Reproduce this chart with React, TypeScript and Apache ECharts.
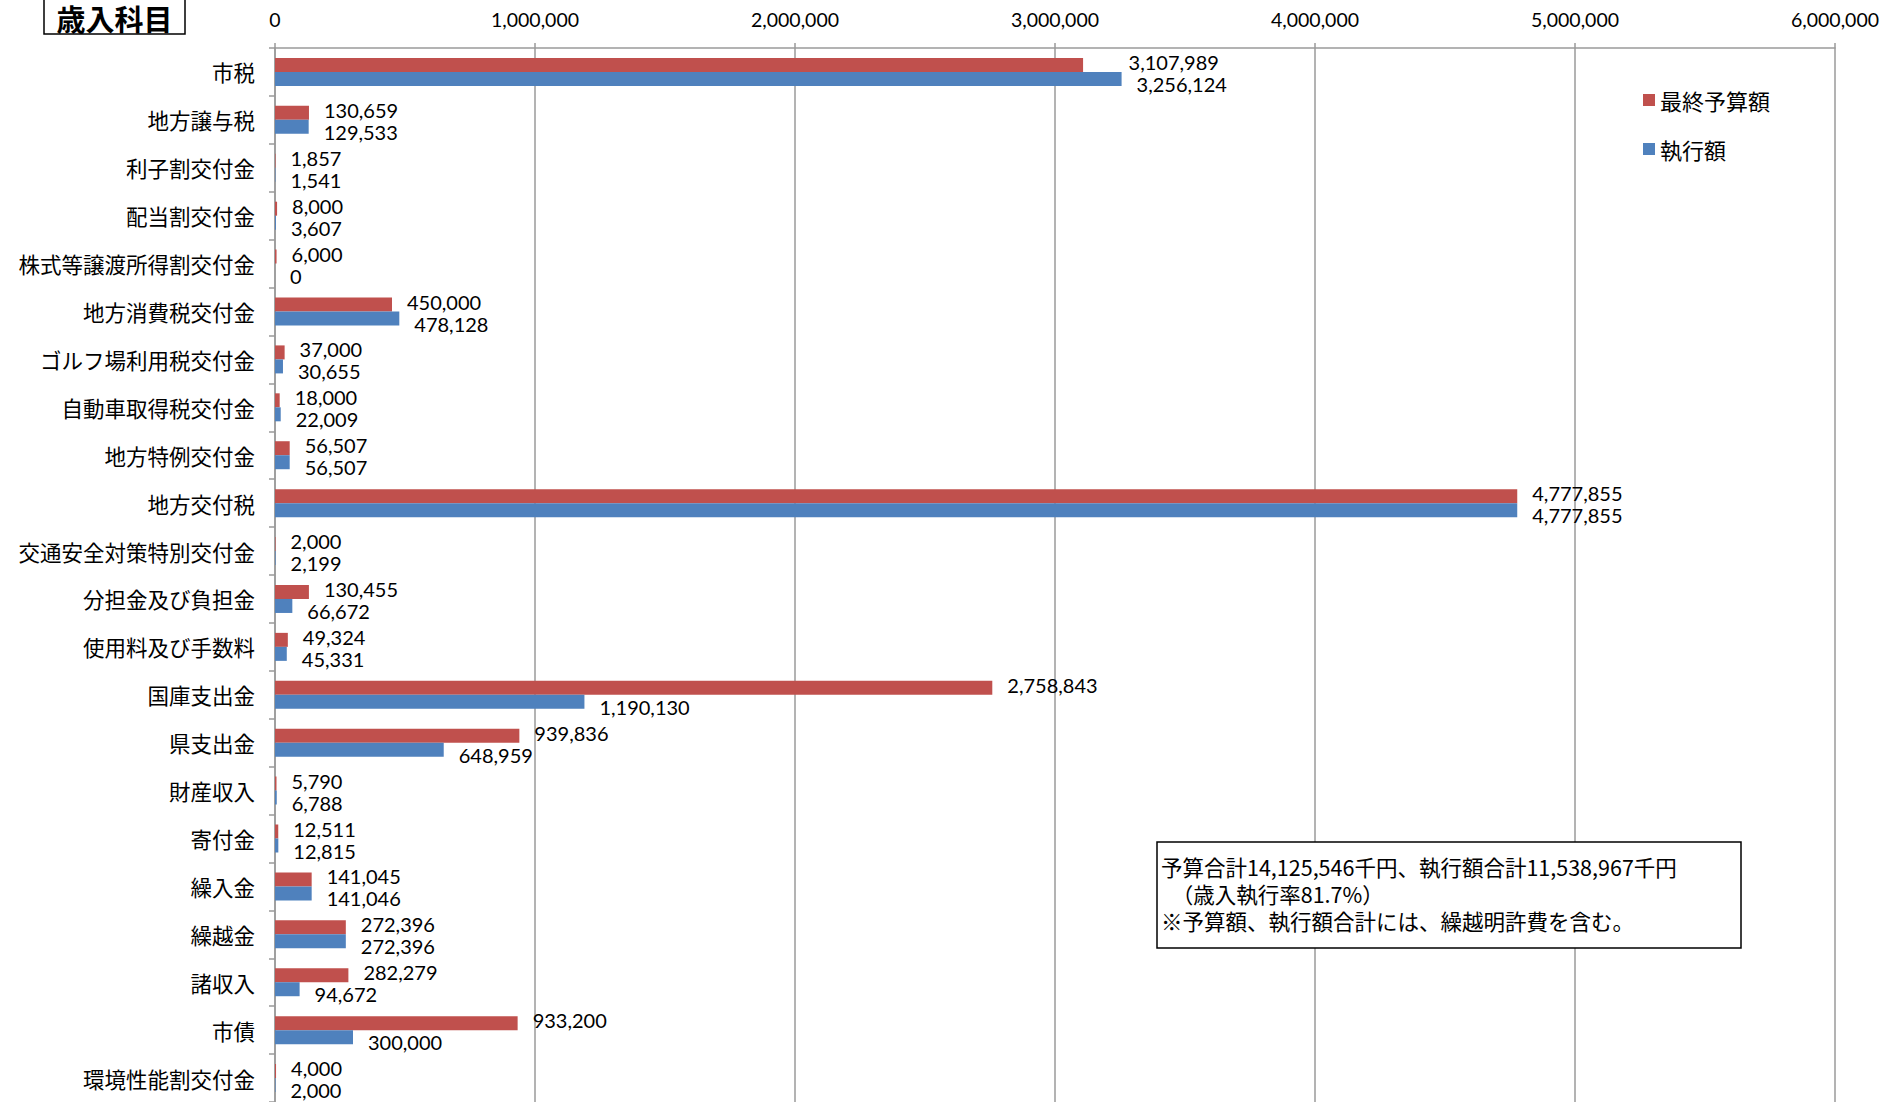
import React, { useEffect, useRef } from "react";
import * as echarts from "echarts";

const categories = [
  "市税",
  "地方譲与税",
  "利子割交付金",
  "配当割交付金",
  "株式等譲渡所得割交付金",
  "地方消費税交付金",
  "ゴルフ場利用税交付金",
  "自動車取得税交付金",
  "地方特例交付金",
  "地方交付税",
  "交通安全対策特別交付金",
  "分担金及び負担金",
  "使用料及び手数料",
  "国庫支出金",
  "県支出金",
  "財産収入",
  "寄付金",
  "繰入金",
  "繰越金",
  "諸収入",
  "市債",
  "環境性能割交付金",
];

const budgetValues = [
  3107989, 130659, 1857, 8000, 6000, 450000, 37000, 18000, 56507, 4777855, 2000,
  130455, 49324, 2758843, 939836, 5790, 12511, 141045, 272396, 282279, 933200, 4000,
];

const actualValues = [
  3256124, 129533, 1541, 3607, 0, 478128, 30655, 22009, 56507, 4777855, 2199,
  66672, 45331, 1190130, 648959, 6788, 12815, 141046, 272396, 94672, 300000, 2000,
];

const seriesNames = ["最終予算額", "執行額"];
const axisTicks = [0, 1000000, 2000000, 3000000, 4000000, 5000000, 6000000];
const titleText = "歳入科目";
const noteLines = [
  "予算合計14,125,546千円、執行額合計11,538,967千円",
  "　（歳入執行率81.7%）",
  "※予算額、執行額合計には、繰越明許費を含む。",
];

const RED = "#C0504D";
const BLUE = "#4F81BD";
const GRID_COLOR = "#9a9a9a";
const CJK = "'Noto Sans CJK JP', 'Noto Sans', sans-serif";
const NUM = "Lato, 'Liberation Sans', sans-serif";

const GRID_LEFT = 275;
const GRID_TOP = 48;
const GRID_WIDTH = 1560;
const GRID_HEIGHT = 1056;

const fmt = (v: number) => v.toLocaleString("en-US");

export default function App() {
  const ref = useRef<HTMLDivElement>(null);

  useEffect(() => {
    if (!ref.current) return;
    const chart = echarts.init(ref.current, undefined, { renderer: "svg" });
    const axisMax = axisTicks[axisTicks.length - 1];
    const pxPerUnit = GRID_WIDTH / axisMax;

    const budgetData = budgetValues.map((v, i) => {
      const extra = Math.max(0, (actualValues[i] - v) * pxPerUnit - 8);
      return { value: v, label: { offset: [extra, -3] } };
    });

    const noteGraphics = noteLines.map((line, i) => ({
      type: "text",
      z: 101,
      x: 1161,
      y: 866 + i * 27,
      style: {
        text: line,
        fontFamily: CJK,
        fontSize: 21.5,
        fill: "#000",
        align: "left",
        verticalAlign: "middle",
      },
    }));

    chart.setOption({
      animation: false,
      backgroundColor: "#ffffff",
      grid: { left: GRID_LEFT, top: GRID_TOP, width: GRID_WIDTH, height: GRID_HEIGHT },
      legend: {
        orient: "vertical",
        left: 1638,
        top: 84,
        icon: "rect",
        itemWidth: 12,
        itemHeight: 12,
        itemGap: 27,
        textStyle: { fontFamily: CJK, fontSize: 22, color: "#000", lineHeight: 22 },
        data: seriesNames,
      },
      xAxis: {
        type: "value",
        position: "top",
        min: axisTicks[0],
        max: axisMax,
        interval: axisTicks[1] - axisTicks[0],
        axisLine: { show: true, lineStyle: { color: GRID_COLOR, width: 1.5 } },
        axisTick: { show: true, length: 5, lineStyle: { color: GRID_COLOR, width: 1.5 } },
        splitLine: { show: true, lineStyle: { color: GRID_COLOR, width: 1.5 } },
        axisLabel: {
          margin: 19,
          color: "#000",
          fontFamily: NUM,
          fontSize: 19.5,
          formatter: (v: number) => fmt(v),
        },
      },
      yAxis: {
        type: "category",
        inverse: true,
        data: categories,
        axisLine: { show: true, lineStyle: { color: GRID_COLOR, width: 1.5 } },
        axisTick: { show: true, length: 6, lineStyle: { color: GRID_COLOR, width: 1.5 } },
        axisLabel: { margin: 20, color: "#000", fontFamily: CJK, fontSize: 21.5 },
        splitLine: { show: false },
      },
      series: [
        {
          name: seriesNames[0],
          type: "bar",
          data: budgetData,
          barWidth: 14,
          barGap: "0%",
          itemStyle: { color: RED },
          label: {
            show: true,
            position: "right",
            distance: 15,
            color: "#000",
            fontFamily: NUM,
            fontSize: 20,
            formatter: (p: any) => fmt(p.value),
          },
        },
        {
          name: seriesNames[1],
          type: "bar",
          data: actualValues.map((v) => ({ value: v, label: { offset: [0, 5] } })),
          barWidth: 14,
          barGap: "0%",
          itemStyle: { color: BLUE },
          label: {
            show: true,
            position: "right",
            distance: 15,
            color: "#000",
            fontFamily: NUM,
            fontSize: 20,
            formatter: (p: any) => fmt(p.value),
          },
        },
      ],
      graphic: [
        {
          type: "rect",
          z: 100,
          shape: { x: 44, y: -2, width: 141, height: 36 },
          style: { fill: "#fff", stroke: "#000", lineWidth: 1.5 },
        },
        {
          type: "text",
          z: 101,
          x: 114.5,
          y: 18,
          style: {
            text: titleText,
            fontFamily: CJK,
            fontSize: 29,
            fontWeight: "bold",
            fill: "#000",
            align: "center",
            verticalAlign: "middle",
          },
        },
        {
          type: "rect",
          z: 100,
          shape: { x: 1157, y: 842, width: 584, height: 106 },
          style: { fill: "#fff", stroke: "#000", lineWidth: 1.5 },
        },
        ...noteGraphics,
      ],
    });
    return () => chart.dispose();
  }, []);

  return (
    <div
      ref={ref}
      style={{ position: "fixed", left: 0, top: 0, width: 1900, height: 1102, background: "#fff" }}
    />
  );
}
